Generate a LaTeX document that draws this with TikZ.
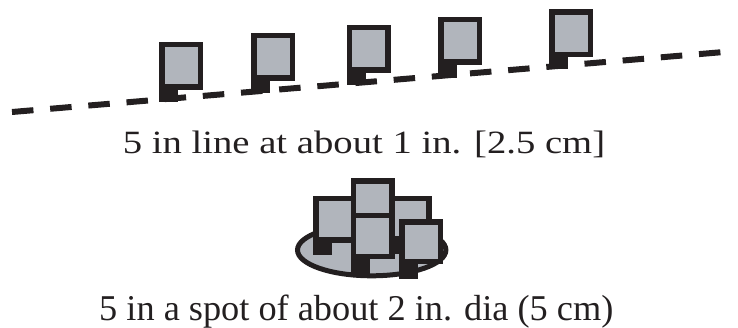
\documentclass[tikz,border=0pt]{standalone}
\usepackage{graphicx}
\usepackage{fontspec}
\setmainfont{Liberation Serif}
\definecolor{ink}{HTML}{231F20}
\definecolor{screen}{HTML}{B1B5BC}
\tikzset{
  frame/.style={draw=ink, fill=screen, line width=5.5pt},
  track/.style={draw=ink, line width=6pt, dash pattern=on 21.5pt off 16.8pt},
  spot/.style={draw=ink, fill=screen, line width=5pt},
  caption/.style={anchor=base, inner sep=0pt, text=ink},
  % a monitor: framed screen with a foot at its lower left
  % #1 = outer height of the frame, #2 = how far the foot reaches below it
  pics/device/.style args={#1/#2}{code={
    \fill[ink] (0,#1-1) rectangle (19,#1+#2);
    \draw[frame] (2.75,2.75) rectangle (41.25,#1-2.75);
  }},
}
\begin{document}
\begin{tikzpicture}[x=1pt,y=-1pt]
\useasboundingbox (0,0) rectangle (738,328);

% five monitors standing along a dashed line
\coordinate (trackstart) at (12,112);
\coordinate (trackend) at (724,52);
\draw[track] (trackstart) -- (trackend);
\pic (m1) at (159.3,41.7) {device=48/12};
\pic (m2) at (251,32.7) {device=48/12.5};
\pic (m3) at (346.7,25) {device=48/12.5};
\pic (m4) at (438.3,16.7) {device=48/13};
\pic (m5) at (549.3,9.3) {device=48/11.5};

\node[caption, font=\fontsize{32.5}{38}\selectfont] (linecap) at (364,154)
  {\scalebox{1.19}[1]{5 in line at about 1 in. [2.5 cm]}};

% five monitors grouped on one spot
\draw[spot] (371.7,250) ellipse [x radius=74.2, y radius=25.8];
\pic (s1) at (313.3,196) {device=47/12};
\pic (s2) at (387.7,196) {device=46/12};
\pic (s3) at (350.7,178.3) {device=47/12};
\pic (s4) at (350.7,212.7) {device=46.5/14.5};
\pic (s5) at (399.3,219.3) {device=45/14.5};

\node[caption, font=\fontsize{36.3}{42}\selectfont] (spotcap) at (356.3,320)
  {5 in a spot of about 2 in. dia (5 cm)};
\end{tikzpicture}
\end{document}
